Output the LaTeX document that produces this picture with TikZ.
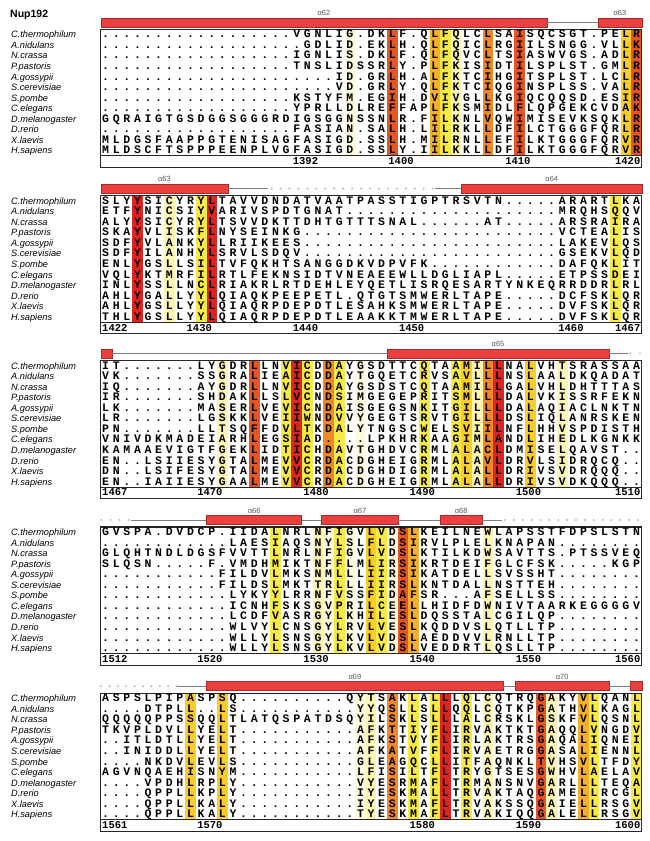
\documentclass[tikz,border=0pt]{standalone}
\usepackage{fontspec}
\setmainfont{Liberation Sans}
\newfontfamily\seqfont{Liberation Mono}
\definecolor{cA}{RGB}{222,35,35}
\definecolor{cB}{RGB}{230,85,35}
\definecolor{cC}{RGB}{240,135,40}
\definecolor{cD}{RGB}{246,175,45}
\definecolor{cE}{RGB}{250,205,40}
\definecolor{cF}{RGB}{248,234,70}
\definecolor{cG}{RGB}{252,245,180}
\definecolor{cH}{RGB}{254,250,220}
\definecolor{barfill}{RGB}{234,64,64}
\definecolor{barline}{RGB}{170,40,40}
\definecolor{loopgray}{RGB}{125,125,125}
\definecolor{dotgray}{RGB}{190,190,190}
\def\cellize#1{\ifx#1\relax\else\makebox[10.62pt][c]{#1}\expandafter\cellize\fi}
\tikzset{
 seqrow/.style={anchor=west, inner sep=0pt, outer sep=0pt, font=\seqfont\bfseries\fontsize{11.5}{11.5}\selectfont, text height=6.6pt, text depth=0pt},
 spname/.style={anchor=west, inner sep=0pt, font=\itshape\fontsize{9.2}{9.2}\selectfont, text height=6.6pt, text depth=0pt},
 numlab/.style={inner sep=0pt, font=\seqfont\bfseries\fontsize{10.5}{10.5}\selectfont, text height=6pt, text depth=0pt},
 sslab/.style={inner sep=0pt, font=\fontsize{7.5}{7.5}\selectfont, text=black!65},
 helixbar/.style={fill=barfill, draw=barline, line width=0.5pt},
 loopline/.style={draw=loopgray, line width=0.9pt},
 framebox/.style={draw=black!85, line width=1.1pt},
 titlelab/.style={anchor=west, inner sep=0pt, font=\bfseries\fontsize{10.5}{10.5}\selectfont, text height=7.5pt, text depth=0pt},
}
\newcommand\seqline[4]{\node[seqrow] (#1) at (100.3,{#2+10.55*(#3+0.5)}) {\cellize#4\relax};}
\newcommand\numat[4]{\node[numlab,anchor=west] (#1) at ({100.3+10.62*#3+1.2},{#2+132.4}) {#4};}
\newcommand\blockframe[3]{%
  \foreach \c/\k in {#3} \fill[\k] ({100.3+10.62*\c},#2) rectangle ++(10.62,126.6);
  \foreach \nm [count=\i from 0] in {C.thermophilum,A.nidulans,N.crassa,P.pastoris,A.gossypii,S.cerevisiae,S.pombe,C.elegans,D.melanogaster,D.rerio,X.laevis,H.sapiens}
    \node[spname] (sp#1-\i) at (11,{#2+10.55*(\i+0.5)}) {\nm};
  \draw[framebox] (100.3,#2) rectangle (641.9,{#2+138.3});
  \draw[framebox] (100.3,{#2+126.6}) -- (641.9,{#2+126.6});
}
\newcommand\helixseg[4]{\draw[helixbar] (#2,{#1-11.5}) rectangle (#3,{#1-2.5});
  \ifx\relax#4\relax\else\node[sslab] at ({(#2+#3)/2},{#1-16.5}) {#4};\fi}
\newcommand\loopseg[3]{\draw[loopline] (#2,{#1-7}) -- (#3,{#1-7});}
\newcommand\dotrun[4]{\foreach \j in {0,...,#4} \fill[dotgray] ({#2+#3*\j},{#1-7}) circle (1.2);}
\begin{document}
\begin{tikzpicture}[x=1pt,y=-1pt]
\useasboundingbox (0,0) rectangle (650,841);
\fill[white] (0,0) rectangle (650,841);
\node[titlelab] (title) at (10,13.5) {Nup192};
% ---------------- block 1
\def\T{29.3}
\helixseg{\T}{101}{547}{α62}
\loopseg{\T}{547}{598}
\helixseg{\T}{598}{641.9}{α63}
\blockframe{1}{\T}{23/cH,27/cB,31/cD,32/cF,33/cG,36/cC,39/cB,49/cE,50/cB}
\seqline{a0}{\T}{0}{..................VGNLIG.DKLF.QLFQLCLSAISQCSGT.PELR}
\seqline{a1}{\T}{1}{...................GDLID.EKLH.QLFQICLRGIILSNGG.VLLK}
\seqline{a2}{\T}{2}{..................IGNLIS.DKLF.QLFQVCLTSIASWVGS.ADLR}
\seqline{a3}{\T}{3}{..................TNSLIDSSRLY.PLFKISIDTILSPLST.GMLR}
\seqline{a4}{\T}{4}{......................ID.GRLH.ALFKTCIHGITSPLST.LCLR}
\seqline{a5}{\T}{5}{......................VD.GRLY.QLFKTCIQGINSPLSS.VALR}
\seqline{a6}{\T}{6}{..................KSTYFM.EGIH.DVIVGLLKGIQCQQSD.ESIR}
\seqline{a7}{\T}{7}{..................YPRLLDLREFFAPLFKSMIDLFLQPGEKCVDAK}
\seqline{a8}{\T}{8}{GQRAIGTGSDGGSGGGRDIGSGGNSSNLR.FILKNLVQWIMISEVKSQKLR}
\seqline{a9}{\T}{9}{..................FASIAN.SALH.LILRKLLDFILCTGGGFQRLR}
\seqline{a10}{\T}{10}{MLDGSFAAPPGTENISAGFASIGD.SSLH.MILRNLLEFILKTGGGFQRVR}
\seqline{a11}{\T}{11}{MLDSCFTSPPPEENPLVGFASIGD.SSLY.IILKKLLDFILKTGGGFQRVR}
\numat{n1a}{\T}{18}{1392}
\numat{n1b}{\T}{27}{1400}
\numat{n1c}{\T}{38}{1410}
\node[numlab,anchor=east] (n1d) at (640.5,{\T+132.4}) {1420};
% ---------------- block 2
\def\T{195.6}
\helixseg{\T}{101}{228}{α63}
\loopseg{\T}{228}{268}
\dotrun{\T}{271.7}{8.94}{18}
\loopseg{\T}{435}{461.7}
\helixseg{\T}{461.7}{641.9}{α64}
\blockframe{2}{\T}{3/cA,6/cG,9/cF,10/cA,48/cF}
\seqline{b0}{\T}{0}{SLYYSICYRYLTAVVDNDATVAATPASSTIGPTRSVTN.....ARARTLKA}
\seqline{b1}{\T}{1}{ETFYNICSIYVARIVSPDTGNAT....................MRQHSQQV}
\seqline{b2}{\T}{2}{ALYYSICYRYLTSVVDKTTDHTGTTTSNAL......AT.....ARSRAIRA}
\seqline{b3}{\T}{3}{SKAYVLISKFLNYSEINKG........................VCTEALIS}
\seqline{b4}{\T}{4}{SDFYVLANKYLLRIIKEES........................LAKEVLQS}
\seqline{b5}{\T}{5}{SDFYILANHYLSRVLSDQV........................GSEKVLQD}
\seqline{b6}{\T}{6}{ENLYGSLLSILTVFQKHTSANGGDKVDPVFK............DAFQKLIT}
\seqline{b7}{\T}{7}{VQLYKTMRFILRTLFEKNSIDTVNEAEEWLLDGLIAPL.....ETPSSDEI}
\seqline{b8}{\T}{8}{INLYSSLLNCLRIAKRLRTDEHLEYQETLISRQESARTYNKEQRRDDRLRL}
\seqline{b9}{\T}{9}{AHLYGALLYYLQIAQKPEEPETL.QTGTSMWERLTAPE.....DCFSKLQR}
\seqline{b10}{\T}{10}{AHLYGSLLYYLQIAQRPDEPDTLESAHKSMWERLTAPE.....DVFSKLQR}
\seqline{b11}{\T}{11}{THLYGSLLYYLQIAQRPDEPDTLEAAKKTMWERLTAPE.....DVFSKLQR}
\node[numlab,anchor=west] (n2a) at (102,{\T+132.4}) {1422};
\numat{n2b}{\T}{8}{1430}
\numat{n2c}{\T}{18}{1440}
\numat{n2d}{\T}{28}{1450}
\numat{n2e}{\T}{43}{1460}
\node[numlab,anchor=east] (n2f) at (640.5,{\T+132.4}) {1467};
% ---------------- block 3
\def\T{360.5}
\helixseg{\T}{101}{112}{}
\loopseg{\T}{112}{387}
\helixseg{\T}{387}{609}{α65}
\loopseg{\T}{609}{628}
\dotrun{\T}{630.5}{9.5}{1}
\blockframe{3}{\T}{11/cG,14/cB,17/cF,18/cA,19/cF,21/cC,22/cF,24/cH,30/cF,33/cF,34/cE,35/cG,36/cC,37/cA,40/cE,43/cG}
\seqline{c0}{\T}{0}{IT.......LYGDRLLNVICDDAYGSDTTCQTAAMILLNALVHTSRASSAA}
\seqline{c1}{\T}{1}{VK.......SSGRALIEAICDDAYTGQETCRVSAVLLLNSLAALDKQADAT}
\seqline{c2}{\T}{2}{IQ.......AYGDRLLNVICDDAYGSDSTCQTAAMILLGALVHLDHTTTAS}
\seqline{c3}{\T}{3}{IR.......SHDAKLLSLVCNDSIMGEGEPRITSMLLLDALVKISSRFEKN}
\seqline{c4}{\T}{4}{LK.......MASERLVEVICNDAISGEGSNKITGILLLDALAQIACLNKTN}
\seqline{c5}{\T}{5}{LR.......LGSKKLVEIIWNDVVYGEGTSRVTGILLLDSLIQLANRSKEN}
\seqline{c6}{\T}{6}{PN.......LLTSQFFDVLTKDALYTNGSCWELSVIILNFLHHVSPDISTH}
\seqline{c7}{\T}{7}{VNIVDKMADEIARHLEGSIAD....LPKHRKAAGIMLANDLIHEDLKGNKK}
\seqline{c8}{\T}{8}{KAMAAEVIGTFGEKLIDTICHDAVTGHDVCRMLALACLDMISELQAVST..}
\seqline{c9}{\T}{9}{EN..LSIIESYGTALMEVVCRDACDGHEIGRMLALAVLDRVLSIDRQCQ..}
\seqline{c10}{\T}{10}{DN..LSIFESYGTALMEVVCRDACDGHDIGRMLALALLDRIVSVDRQQQ..}
\seqline{c11}{\T}{11}{EN..IAIIESYGAALMEVVCRDACDGHEIGRMLALALLDRIVSVDKQQQ..}
\node[numlab,anchor=west] (n3a) at (102,{\T+132.4}) {1467};
\numat{n3b}{\T}{9}{1470}
\numat{n3c}{\T}{19}{1480}
\numat{n3d}{\T}{29}{1490}
\numat{n3e}{\T}{39}{1500}
\node[numlab,anchor=east] (n3f) at (640.5,{\T+132.4}) {1510};
% ---------------- block 4
\def\T{527.0}
\dotrun{\T}{101.5}{9}{3}
\loopseg{\T}{131}{206.7}
\helixseg{\T}{206.7}{301.7}{α66}
\loopseg{\T}{301.7}{321.7}
\helixseg{\T}{321.7}{398.3}{α67}
\loopseg{\T}{398.3}{440}
\helixseg{\T}{440}{482.3}{α68}
\loopseg{\T}{482.3}{501.7}
\dotrun{\T}{505}{8.87}{15}
\blockframe{4}{\T}{16/cF,20/cG,21/cH,22/cF,23/cH,25/cE,26/cF,27/cH,28/cB,29/cD,36/cG}
\seqline{d0}{\T}{0}{GVSPA.DVDCP.IIDALNRLNFIGVLVDSLKEILNEWLAPSSTFDPSLSTN}
\seqline{d1}{\T}{1}{............LAESIAQSNYLSLFLDSIRVLPLELKNAPAN........}
\seqline{d2}{\T}{2}{GLQHTNDLDGSFVVTTLNRLNFIGVLVDSLKTILKDWSAVTTS.PTSSVEQ}
\seqline{d3}{\T}{3}{SLQSN.....F.VMDHMIKTNFFLMLIRSIKRTDEIFGLCFSK.....KGP}
\seqline{d4}{\T}{4}{...........FILDVLMKSNMLLLIIRSIKATDELLSVSSHT........}
\seqline{d5}{\T}{5}{...........FILDSLMKTTRLLLIIRSLKNTDALLNSTTEH........}
\seqline{d6}{\T}{6}{............LYKYYLRRNFVSSFIDAFSR...AFSELLSS........}
\seqline{d7}{\T}{7}{............ICNHFSKSGVPRILCEELLHIDFDWNIVTAARKEGGGGV}
\seqline{d8}{\T}{8}{............LCDFVASRGYLKHILESLDQSSTALCGILQP........}
\seqline{d9}{\T}{9}{............WLVYLCNSGYLRVLVESLKQDDVSLQTLLTP........}
\seqline{d10}{\T}{10}{............WLLYLSNSGYLKVLVDSLAEDDVVLRNLLTP........}
\seqline{d11}{\T}{11}{............WLLYLSNSGYLKVLVDSLVEDDRTLQSLLTP........}
\node[numlab,anchor=west] (n4a) at (102,{\T+132.4}) {1512};
\numat{n4b}{\T}{9}{1520}
\numat{n4c}{\T}{19}{1530}
\numat{n4d}{\T}{29}{1540}
\numat{n4e}{\T}{39}{1550}
\node[numlab,anchor=east] (n4f) at (640.5,{\T+132.4}) {1560};
% ---------------- block 5
\def\T{693.2}
\dotrun{\T}{101}{8.4}{9}
\loopseg{\T}{177}{206.7}
\helixseg{\T}{206.7}{503.3}{α69}
\loopseg{\T}{503.3}{515}
\helixseg{\T}{515}{609.3}{α70}
\loopseg{\T}{609.3}{630.7}
\helixseg{\T}{630.7}{641.9}{}
\blockframe{5}{\T}{8/cE,11/cE,24/cH,25/cG,27/cC,29/cF,31/cF,32/cA,34/cF,36/cG,41/cB,42/cG,45/cD,46/cF,50/cF}
\seqline{e0}{\T}{0}{ASPSLPIPASPSQ..........QYTSAKLALLLQLCQTRQGAKYVLQANL}
\seqline{e1}{\T}{1}{....DTPLL..LS...........YYQSLLSLLQQLCQTKPGATHVLKAGL}
\seqline{e2}{\T}{2}{QQQQQPPSSQQLTLATQSPATDSQYILSKLSLLLALCRSKLGSKFVLQSNL}
\seqline{e3}{\T}{3}{TKVPLDVLLYELT...........AFKTTIYFLIRVAKTKTGAQQLVNGDV}
\seqline{e4}{\T}{4}{..ITLDTLLYELT...........AFKSTVYFLIRLAKTRSGAQALIQNEI}
\seqline{e5}{\T}{5}{..INIDDLLYELT...........AFKATVFFLIRVAETRGGASALIENNL}
\seqline{e6}{\T}{6}{....NKDVLEVLS...........GLEAGQCLLITFAQNKLTVHSVLTFDY}
\seqline{e7}{\T}{7}{AGVNQAEHISNYM...........LFISILTFLTRYGTSESGWHVLAELAV}
\seqline{e8}{\T}{8}{....VPDHLRPLY...........VYESRMAFLTRMANSNVGARLLLTEQA}
\seqline{e9}{\T}{9}{....QPPLLKPLY...........IYESKMALLTRVAKTAQGAMELLRCGL}
\seqline{e10}{\T}{10}{....QPPLLKALY...........IYESKMAFLTRVAKSSQGAIELLRSGV}
\seqline{e11}{\T}{11}{....QPPLLKALY...........TYESKMAFLTRVAKIQQGALELLRSGV}
\node[numlab,anchor=west] (n5a) at (102,{\T+132.4}) {1561};
\numat{n5b}{\T}{9}{1570}
\numat{n5c}{\T}{29}{1580}
\numat{n5d}{\T}{39}{1590}
\node[numlab,anchor=east] (n5e) at (640.5,{\T+132.4}) {1600};
\end{tikzpicture}
\end{document}
